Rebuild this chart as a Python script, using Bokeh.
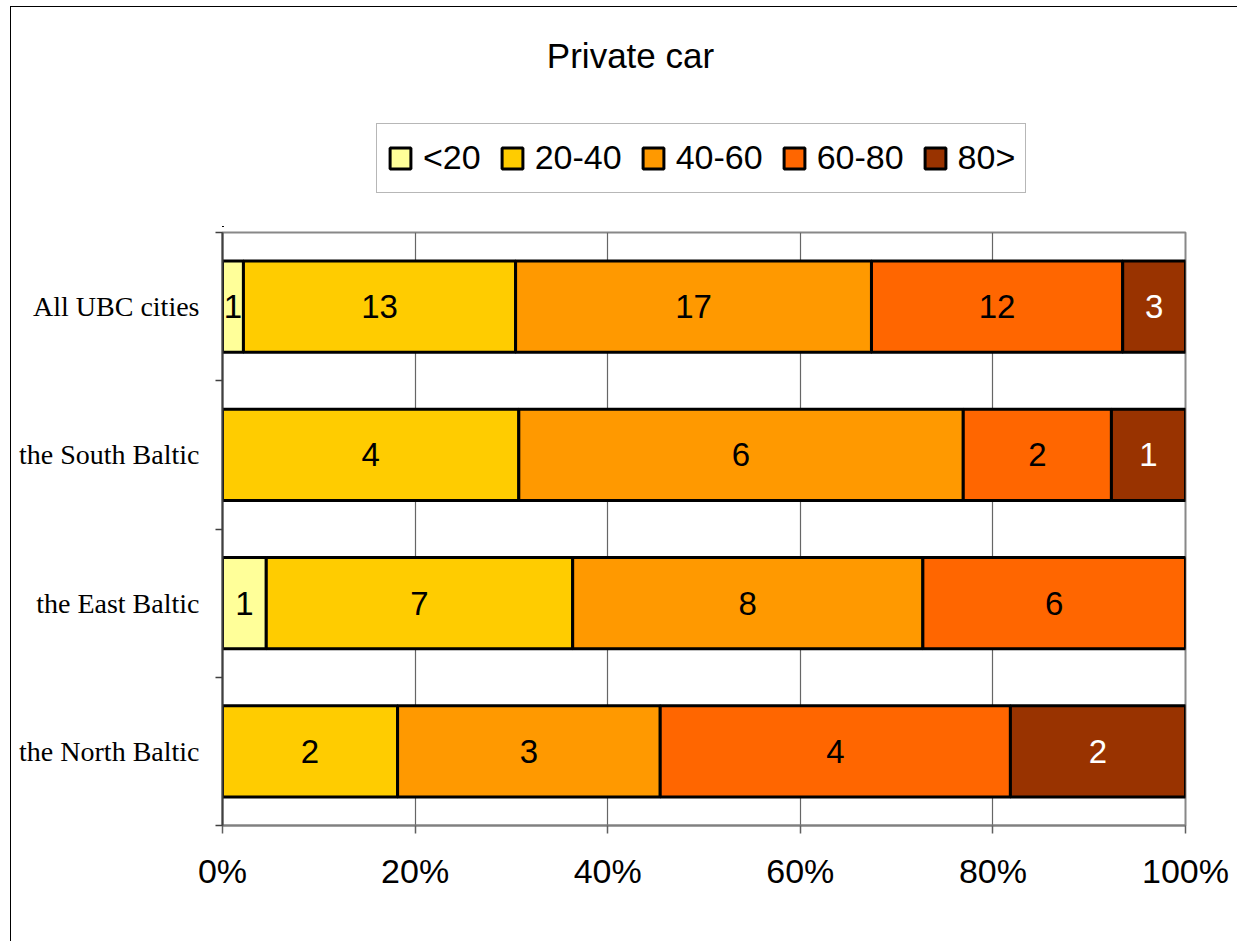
import numpy as np
from bokeh.plotting import figure
from bokeh.layouts import column
from bokeh.models import (Range1d, FixedTicker, NumeralTickFormatter, Legend, LegendItem,
                          Label, ColumnDataSource)
from bokeh.core.properties import value
from bokeh.embed import file_html
from bokeh.resources import INLINE

# ---- data ----
title = "Private car"
categories = ["All UBC cities", "the South Baltic", "the East Baltic", "the North Baltic"]
series = ["<20", "20-40", "40-60", "60-80", "80>"]
v_lt20 = [1, 0, 1, 0]
v_20_40 = [13, 4, 7, 2]
v_40_60 = [17, 6, 8, 3]
v_60_80 = [12, 2, 6, 4]
v_80gt = [3, 1, 0, 2]
colors = ["#FFFF99", "#FFCC00", "#FF9900", "#FF6600", "#993300"]
label_colors = ["black", "black", "black", "black", "white"]
x_ticks = [0, 0.2, 0.4, 0.6, 0.8, 1.0]

vals = np.array([v_lt20, v_20_40, v_40_60, v_60_80, v_80gt], dtype=float)  # series x cat
totals = vals.sum(axis=0)
shares = vals / totals
right = np.cumsum(shares, axis=0)
left = right - shares
n = len(categories)
ypos = [n - i - 0.5 for i in range(n)]

W = 1226
HH = 220          # header (title + legend)
HC = 714          # chart
BL, BR = 211, 52  # side borders shared by both figures
FW = W - BL - BR  # frame width in px

# ---------------- header figure: title and legend ----------------
hdr = figure(width=W, height=HH, output_backend="svg", toolbar_location=None,
             x_range=Range1d(0, FW), y_range=Range1d(0, HH),
             x_axis_type=None, y_axis_type=None,
             min_border_left=BL, min_border_right=BR,
             min_border_top=0, min_border_bottom=0)
hdr.extra_y_ranges = {"hidden": Range1d(10, 11)}
hdr.extra_x_ranges = {"hidden": Range1d(10, 11)}
hdr.outline_line_color = None
hdr.xgrid.visible = False
hdr.ygrid.visible = False
hdr.background_fill_color = "white"
hdr.border_fill_color = "white"

hdr_renderers = []
for k, s in enumerate(series):
    src = ColumnDataSource(dict(y=ypos, left=left[k], right=right[k]))
    r = hdr.hbar(y="y", left="left", right="right", height=0.6, source=src,
                 y_range_name="hidden", x_range_name="hidden",
                 fill_color=colors[k], line_color="black", line_width=3)
    hdr_renderers.append(r)

items = [LegendItem(label=s, renderers=[r]) for s, r in zip(series, hdr_renderers)]
legend = Legend(items=items, orientation="horizontal", location=(154, 34.5),
                glyph_width=26, glyph_height=26, label_standoff=10, spacing=18,
                padding=10, margin=0, label_height=48,
                label_text_font="Liberation Sans", label_text_font_size="34px",
                label_text_color="black",
                border_line_color="#707070", border_line_width=1.5,
                background_fill_color="white", background_fill_alpha=1)
hdr.add_layout(legend, "center")

hdr.add_layout(Label(x=408, y=172, text=title, text_align="center",
                     text_baseline="alphabetic", text_font="Liberation Sans",
                     text_font_size="35px", text_color="black"))

# ---------------- chart figure ----------------
p = figure(width=W, height=HC, output_backend="svg", toolbar_location=None,
           x_range=Range1d(0, 1), y_range=Range1d(0, n),
           min_border_left=BL, min_border_top=5, min_border_right=BR, min_border_bottom=116)
p.background_fill_color = "white"
p.border_fill_color = "white"
p.outline_line_color = "#888888"
p.outline_line_width = 2

for k, s in enumerate(series):
    src = ColumnDataSource(dict(y=ypos, left=left[k], right=right[k]))
    p.hbar(y="y", left="left", right="right", height=0.615, source=src,
           fill_color=colors[k], line_color="black", line_width=3)

# value labels
tx, ty, tt, tc = [], [], [], []
for k in range(len(series)):
    for i in range(n):
        if vals[k, i] > 0:
            tx.append((left[k, i] + right[k, i]) / 2)
            ty.append(ypos[i])
            tt.append(str(int(vals[k, i])))
            tc.append(label_colors[k])
p.text(x="x", y="y", text="t", text_color="c",
       source=ColumnDataSource(dict(x=tx, y=ty, t=tt, c=tc)),
       text_align="center", text_baseline="middle",
       text_font=value("Liberation Sans"), text_font_size="33px")

# x axis
xa = p.xaxis[0]
xa.ticker = FixedTicker(ticks=x_ticks, minor_ticks=[])
xa.formatter = NumeralTickFormatter(format="0%")
xa.axis_line_color = "#808080"
xa.axis_line_width = 2
xa.major_tick_line_color = "#606060"
xa.major_tick_line_width = 1.5
xa.major_tick_out = 8
xa.major_tick_in = 0
xa.minor_tick_line_color = None
xa.major_label_text_font = "Liberation Sans"
xa.major_label_text_font_size = "34px"
xa.major_label_text_color = "black"
xa.major_label_standoff = 18

# y axis (labels at category centres, ticks at boundaries)
ya = p.yaxis[0]
ya.ticker = FixedTicker(ticks=ypos, minor_ticks=list(range(n + 1)))
ya.major_label_overrides = {float(y): c for y, c in zip(ypos, categories)}
ya.axis_line_color = "#404040"
ya.axis_line_width = 2
ya.major_tick_line_color = None
ya.major_tick_out = 0
ya.major_tick_in = 0
ya.minor_tick_line_color = "#404040"
ya.minor_tick_line_width = 1.5
ya.minor_tick_out = 7
ya.minor_tick_in = 0
ya.major_label_text_font = "Liberation Serif"
ya.major_label_text_font_size = "28px"
ya.major_label_text_color = "black"
ya.major_label_standoff = 16

p.xgrid.ticker = FixedTicker(ticks=x_ticks)
p.xgrid.grid_line_color = "#666666"
p.xgrid.grid_line_width = 1.2
p.ygrid.grid_line_color = None

lay = column(hdr, p, spacing=0)
lay.styles = {"margin-left": "10px", "margin-top": "6px",
              "border-left": "1.5px solid #000", "border-top": "1.5px solid #000"}

open("out.html", "w").write(file_html(lay, INLINE))
